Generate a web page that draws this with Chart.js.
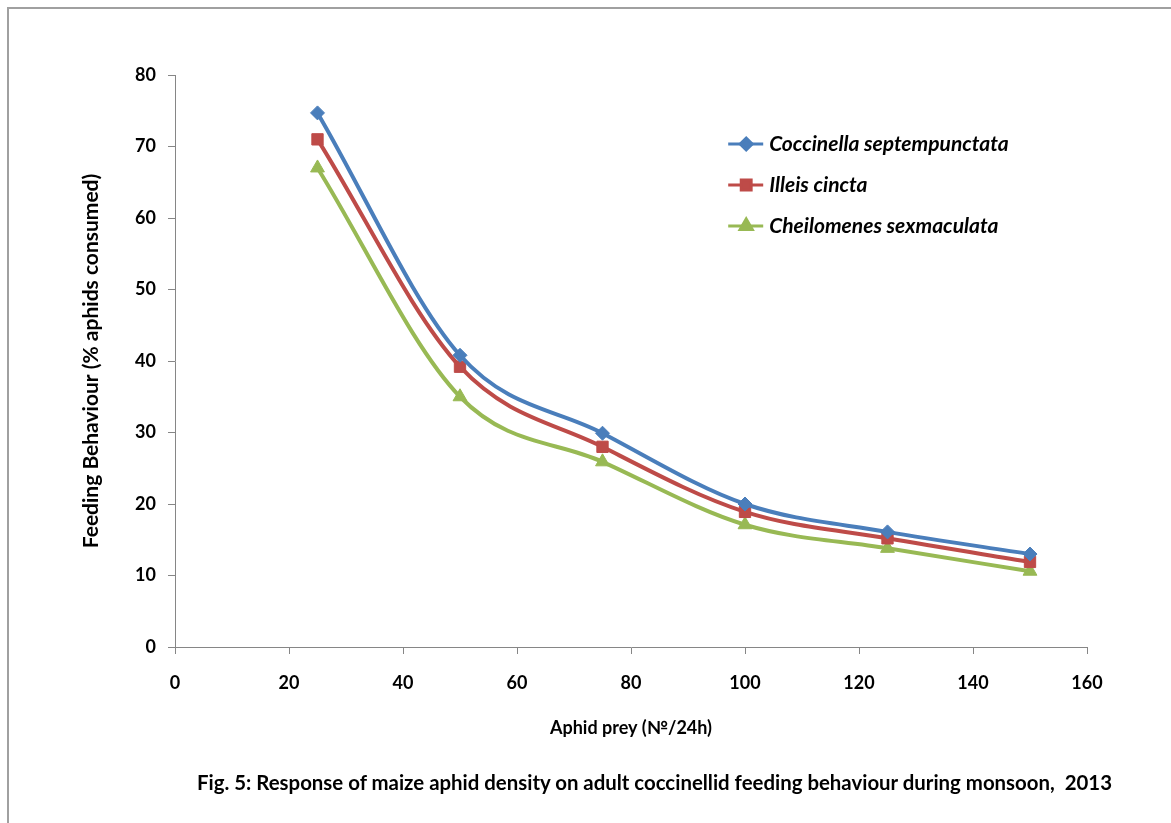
<!DOCTYPE html>
<html>
<head>
<meta charset="utf-8">
<script src="https://cdn.jsdelivr.net/npm/chart.js@4.4.0/dist/chart.umd.min.js"></script>
<style>
  body { margin: 0; background: #fff; }
  #wrap { position: relative; width: 1171px; height: 823px; overflow: hidden; }
  #frame { position: absolute; left: 7px; top: 7px; width: 1200px; height: 900px;
           border-top: 2px solid #a0a0a0; border-left: 2px solid #a0a0a0; }
  #caption { position: absolute; left: 197px; top: 770px; font: bold 20.4px Lato, sans-serif;
             color: #000; white-space: nowrap; }
  canvas { position: absolute; left: 0; top: 0; }
</style>
</head>
<body>
<div id="wrap">
  <div id="frame"></div>
  <canvas id="chart" width="1171" height="823"></canvas>
  <div id="caption">Fig. 5: Response of maize aphid density on adult coccinellid feeding behaviour during monsoon,&nbsp; 2013</div>
</div>
<script>
// values
const preyDensity = [25, 50, 75, 100, 125, 150];
const coccinella = [74.7, 40.8, 29.9, 20.0, 16.1, 13.0];
const illeis = [71.0, 39.2, 28.0, 18.9, 15.2, 11.9];
const cheilomenes = [67.0, 35.0, 25.9, 17.1, 13.8, 10.6];
const seriesNames = ['Coccinella septempunctata', 'Illeis cincta', 'Cheilomenes sexmaculata'];
const xTicks = [0, 20, 40, 60, 80, 100, 120, 140, 160];
const yTicks = [0, 10, 20, 30, 40, 50, 60, 70, 80];

const toPoints = (vals) => vals.map((v, i) => ({x: preyDensity[i], y: v}));

// legend drawn inside the plot, top right like the original
const sideLegend = {
  id: 'sideLegend',
  afterDraw(chart) {
    const ctx = chart.ctx;
    const area = chart.chartArea;
    const x0 = area.left + (area.right - area.left) * 0.6 + 6;
    let y = area.top + 69;
    chart.data.datasets.forEach((ds, i) => {
      ctx.save();
      ctx.strokeStyle = ds.borderColor;
      ctx.lineWidth = 3;
      ctx.beginPath();
      ctx.moveTo(x0, y);
      ctx.lineTo(x0 + 35, y);
      ctx.stroke();
      ctx.fillStyle = ds.borderColor;
      Chart.helpers.drawPoint(ctx, {pointStyle: ds.pointStyle, radius: ds.pointRadius - 1, borderWidth: 1}, x0 + 18, y);
      ctx.fillStyle = '#000';
      ctx.font = 'italic bold 21px Lato, sans-serif';
      ctx.textBaseline = 'middle';
      ctx.fillText(ds.label, x0 + 41, y);
      ctx.restore();
      y += 41;
    });
  }
};

new Chart(document.getElementById('chart'), {
  type: 'line',
  data: {
    datasets: [
      {label: seriesNames[0], data: toPoints(coccinella), borderColor: '#4a7ebb', backgroundColor: '#4a7ebb',
       pointStyle: 'rectRot', pointRadius: 7},
      {label: seriesNames[1], data: toPoints(illeis), borderColor: '#be4b48', backgroundColor: '#be4b48',
       pointStyle: 'rect', pointRadius: 8},
      {label: seriesNames[2], data: toPoints(cheilomenes), borderColor: '#98b954', backgroundColor: '#98b954',
       pointStyle: 'triangle', pointRadius: 8}
    ]
  },
  options: {
    responsive: false,
    animation: false,
    layout: { padding: {top: 75, right: 84, left: 0, bottom: 0} },
    elements: { line: { borderWidth: 4, tension: 0.4, cubicInterpolationMode: 'monotone' } },
    plugins: { legend: {display: false}, tooltip: {enabled: false} },
    scales: {
      x: {
        type: 'linear', min: 0, max: 160,
        afterFit(scale) { scale.height = 176; },
        afterBuildTicks(scale) { scale.ticks = xTicks.map(v => ({value: v})); },
        border: { color: '#868686', width: 1 },
        grid: { drawOnChartArea: false, tickLength: 7, color: '#868686' },
        ticks: { color: '#000', font: {family: 'Lato', size: 18, weight: 'bold'}, padding: 18, maxRotation: 0 },
        title: { display: true, text: 'Aphid prey (№/24h)', color: '#000',
                 font: {family: 'Lato', size: 18, weight: 'bold'}, padding: {bottom: 84} }
      },
      y: {
        min: 0, max: 80,
        afterFit(scale) { scale.width = 175; },
        afterBuildTicks(scale) { scale.ticks = yTicks.map(v => ({value: v})); },
        border: { color: '#868686', width: 1 },
        grid: { drawOnChartArea: false, tickLength: 7, color: '#868686' },
        ticks: { color: '#000', font: {family: 'Lato', size: 18, weight: 'bold'}, padding: 12 },
        title: { display: true, text: 'Feeding Behaviour (% aphids consumed)', color: '#000',
                 font: {family: 'Lato', size: 21, weight: 'bold'}, padding: {top: 79} }
      }
    }
  },
  plugins: [sideLegend]
});
</script>
</body>
</html>
